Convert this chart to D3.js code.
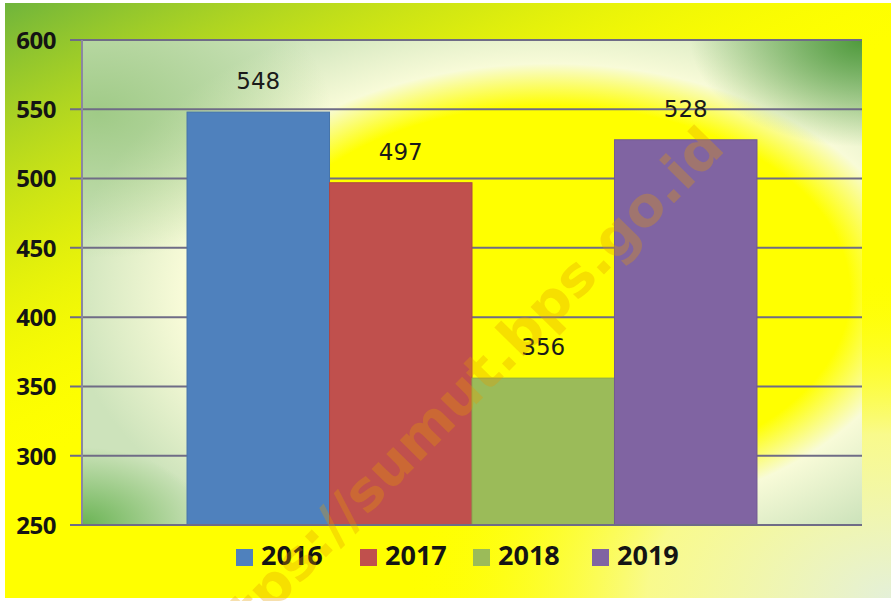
<!DOCTYPE html>
<html>
<head>
<meta charset="utf-8">
<script src="https://cdn.jsdelivr.net/npm/d3@7"></script>
<style>
  html, body { margin: 0; padding: 0; background: #fff; }
  svg { display: block; }
</style>
</head>
<body>
<div id="chart"></div>
<script>
const years = ["2016", "2017", "2018", "2019"]
const values = [548, 497, 356, 528]
const yTicks = [250, 300, 350, 400, 450, 500, 550, 600]
const colors = ["#4f81bd", "#c0504d", "#9bbb59", "#8064a2"]
const watermark = "https://sumut.bps.go.id"

const W = 896, H = 601
const margin = { top: 40, right: 34, bottom: 76, left: 82 }
const width = W - margin.left - margin.right
const height = H - margin.top - margin.bottom

const svg = d3.select("#chart").append("svg")
  .attr("width", W)
  .attr("height", H)

const defs = svg.append("defs")

// outer background gradients
const outerGreen = defs.append("linearGradient").attr("id", "outerGreen")
  .attr("x1", 0).attr("y1", 0).attr("x2", 0.55).attr("y2", 0.75)
outerGreen.append("stop").attr("offset", 0).attr("stop-color", "#6fb43c").attr("stop-opacity", 1)
outerGreen.append("stop").attr("offset", 0.35).attr("stop-color", "#b6d81e").attr("stop-opacity", 0.55)
outerGreen.append("stop").attr("offset", 0.7).attr("stop-color", "#ffff00").attr("stop-opacity", 0)

const outerPale = defs.append("radialGradient").attr("id", "outerPale")
  .attr("cx", 1).attr("cy", 1).attr("r", 0.55)
outerPale.append("stop").attr("offset", 0).attr("stop-color", "#e4f0d8").attr("stop-opacity", 1)
outerPale.append("stop").attr("offset", 0.5).attr("stop-color", "#f6f8c8").attr("stop-opacity", 0.7)
outerPale.append("stop").attr("offset", 1).attr("stop-color", "#ffff00").attr("stop-opacity", 0)

// plot area gradients
const plotBase = defs.append("radialGradient").attr("id", "plotBase")
  .attr("cx", 0.6).attr("cy", 0.52).attr("r", 0.62)
plotBase.append("stop").attr("offset", 0).attr("stop-color", "#ffff00")
plotBase.append("stop").attr("offset", 0.62).attr("stop-color", "#ffff00")
plotBase.append("stop").attr("offset", 0.76).attr("stop-color", "#f8fbd8")
plotBase.append("stop").attr("offset", 1).attr("stop-color", "#cde3bb")

const plotTR = defs.append("radialGradient").attr("id", "plotTR")
  .attr("cx", 1).attr("cy", 0).attr("r", 0.22)
plotTR.append("stop").attr("offset", 0).attr("stop-color", "#4f9a3c").attr("stop-opacity", 1)
plotTR.append("stop").attr("offset", 1).attr("stop-color", "#4f9a3c").attr("stop-opacity", 0)

const plotTL = defs.append("radialGradient").attr("id", "plotTL")
  .attr("cx", 0.02).attr("cy", 0.15).attr("r", 0.3)
plotTL.append("stop").attr("offset", 0).attr("stop-color", "#8cc070").attr("stop-opacity", 0.7)
plotTL.append("stop").attr("offset", 1).attr("stop-color", "#8cc070").attr("stop-opacity", 0)

const plotBL = defs.append("radialGradient").attr("id", "plotBL")
  .attr("cx", 0).attr("cy", 1).attr("r", 0.16)
plotBL.append("stop").attr("offset", 0).attr("stop-color", "#5fae48").attr("stop-opacity", 0.9)
plotBL.append("stop").attr("offset", 1).attr("stop-color", "#5fae48").attr("stop-opacity", 0)

// outer frame
const frame = { x: 5, y: 3, w: W - 10, h: H - 6 }
svg.append("rect").attr("x", frame.x).attr("y", frame.y).attr("width", frame.w).attr("height", frame.h)
  .attr("fill", "#ffff00")
svg.append("rect").attr("x", frame.x).attr("y", frame.y).attr("width", frame.w).attr("height", frame.h)
  .attr("fill", "url(#outerGreen)")
svg.append("rect").attr("x", frame.x).attr("y", frame.y).attr("width", frame.w).attr("height", frame.h)
  .attr("fill", "url(#outerPale)")

const g = svg.append("g").attr("transform", `translate(${margin.left},${margin.top})`)

;["plotBase", "plotTL", "plotBL", "plotTR"].forEach(id => {
  g.append("rect").attr("width", width).attr("height", height).attr("fill", `url(#${id})`)
})

const x = d3.scaleBand().domain(years).range([0, width]).paddingInner(0).paddingOuter(0.737)
const y = d3.scaleLinear().domain([250, 600]).range([height, 0])

// gridlines + tick marks
g.selectAll(".grid")
  .data(yTicks)
  .enter()
  .append("line")
  .attr("class", "grid")
  .attr("x1", -12)
  .attr("x2", width)
  .attr("y1", d => y(d))
  .attr("y2", d => y(d))
  .attr("stroke", "#6f6c86")
  .attr("stroke-width", 2)

g.append("line")
  .attr("x1", 0).attr("x2", 0).attr("y1", 0).attr("y2", height)
  .attr("stroke", "#8a88a0").attr("stroke-width", 2)

const yAxis = g.append("g")
  .call(d3.axisLeft(y).tickValues(yTicks).tickSize(0).tickPadding(26))
yAxis.select(".domain").remove()
yAxis.selectAll("text")
  .attr("font-family", "'Open Sans', sans-serif")
  .attr("font-weight", 700)
  .attr("font-size", "24px")
  .attr("letter-spacing", "-0.5px")
  .attr("fill", "#141414")
  .attr("dy", "0.35em")

// bars
g.selectAll(".bar")
  .data(values)
  .enter()
  .append("rect")
  .attr("class", "bar")
  .attr("x", (d, i) => x(years[i]))
  .attr("y", d => y(d))
  .attr("width", x.bandwidth())
  .attr("height", d => height - y(d))
  .attr("fill", (d, i) => colors[i])
  .attr("stroke", (d, i) => d3.color(colors[i]).darker(0.3))
  .attr("stroke-width", 1)

g.selectAll(".label")
  .data(values)
  .enter()
  .append("text")
  .attr("class", "label")
  .attr("x", (d, i) => x(years[i]) + x.bandwidth() / 2)
  .attr("y", d => y(d) - 23)
  .attr("text-anchor", "middle")
  .attr("font-family", "'DejaVu Sans', sans-serif")
  .attr("font-size", "23px")
  .attr("fill", "#1a1a1a")
  .text(d => d)

// x axis line
g.append("line")
  .attr("x1", -12).attr("x2", width).attr("y1", height).attr("y2", height)
  .attr("stroke", "#6f6c86").attr("stroke-width", 2)

// legend
const legendX = [236, 360, 473, 592]
const legend = svg.append("g").attr("transform", "translate(0,549)")
const items = legend.selectAll(".item")
  .data(years)
  .enter()
  .append("g")
  .attr("class", "item")
  .attr("transform", (d, i) => `translate(${legendX[i]},0)`)
items.append("rect")
  .attr("width", 17).attr("height", 17)
  .attr("fill", (d, i) => colors[i])
items.append("text")
  .attr("x", 25)
  .attr("y", 16)
  .attr("font-family", "'Open Sans', sans-serif")
  .attr("font-weight", 700)
  .attr("font-size", "27px")
  .attr("fill", "#141414")
  .text(d => d)

// watermark
svg.append("text")
  .attr("transform", "translate(452,402) rotate(-45.5)")
  .attr("text-anchor", "middle")
  .attr("dy", "0.35em")
  .attr("font-family", "'DejaVu Sans', sans-serif")
  .attr("font-weight", 700)
  .attr("font-size", "54px")
  .attr("textLength", 745)
  .attr("lengthAdjust", "spacingAndGlyphs")
  .attr("fill", "#e49a00")
  .attr("fill-opacity", 0.32)
  .text(watermark)
</script>
</body>
</html>
